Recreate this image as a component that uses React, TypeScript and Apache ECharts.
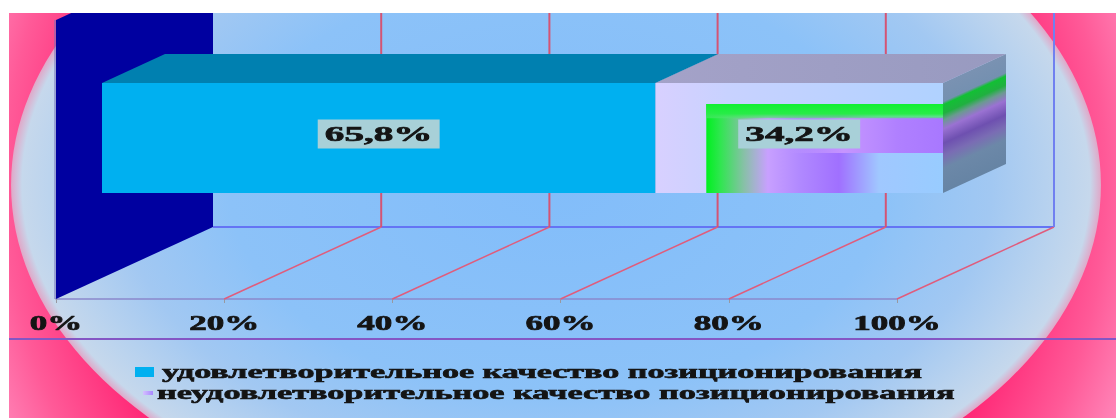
import React, { useEffect, useRef } from "react";
import * as echarts from "echarts";

const categories = ["качество позиционирования"];
const seriesNames = [
  "удовлетворительное качество позиционирования",
  "неудовлетворительное качество позиционирования",
];
const satisfactory = [65.8];
const unsatisfactory = [34.2];
const tickValues = [0, 20, 40, 60, 80, 100];
const tickLabels = ["0%", "20%", "40%", "60%", "80%", "100%"];

const W = 1116;
const H = 418;
// perspective depth of the floor / walls
const DEPTH_X = 157;
const DEPTH_Y = -72;
// front face of the bar sits at this depth, bar depth
const FACE_X = 46;
const FACE_Y = -21;
const BAR_DX = 63;
const BAR_DY = -29;
const FONT = "Liberation Serif";
const STRETCH_TICK = 1.67;
const STRETCH_VALUE = 1.78;
const INK = "#141414";

function measure(text: string, font: string): number {
  const c = document.createElement("canvas").getContext("2d");
  if (!c) return text.length * 9;
  c.font = font;
  return c.measureText(text).width;
}

function fmt(v: number): string {
  return v.toFixed(1).replace(".", ",") + "%";
}

function lg(x: number, y: number, x2: number, y2: number, stops: [number, string][], global = false) {
  return new echarts.graphic.LinearGradient(
    x,
    y,
    x2,
    y2,
    stops.map(([offset, color]) => ({ offset, color })),
    global
  );
}

function makeBarRender(kind: number) {
  return (params: any, api: any) => {
    const s = api.coord([api.value(0), api.value(2)]);
    const e = api.coord([api.value(1), api.value(2)]);
    const band = api.size([0, 1])[1];
    const h = band * 0.393;
    const x0 = s[0] + FACE_X;
    const x1 = e[0] + FACE_X;
    const y0 = s[1] + FACE_Y - h / 2;
    const y1 = y0 + h;
    const w = x1 - x0;
    const children: any[] = [];
    const top = [
      [x0, y0],
      [x0 + BAR_DX, y0 + BAR_DY],
      [x1 + BAR_DX, y0 + BAR_DY],
      [x1, y0],
    ];
    const right = [
      [x1, y0],
      [x1 + BAR_DX, y0 + BAR_DY],
      [x1 + BAR_DX, y1 + BAR_DY],
      [x1, y1],
    ];
    if (kind === 0) {
      children.push({ type: "polygon", shape: { points: right }, style: { fill: "#0070a0" } });
      children.push({ type: "polygon", shape: { points: top }, style: { fill: "#0080b0" } });
      children.push({ type: "rect", shape: { x: x0, y: y0, width: w, height: h }, style: { fill: "#00b0f0" } });
    } else {
      const lam = (63 * h) / 4810;
      children.push({
        type: "polygon",
        shape: { points: right },
        style: {
          fill: lg(
            x1,
            y0,
            x1 + 29 * lam,
            y0 + 63 * lam,
            [
              [0, "#7a92b2"],
              [0.17, "#7490b0"],
              [0.2, "#12c034"],
              [0.28, "#20b040"],
              [0.34, "#6a9a90"],
              [0.42, "#9a72d2"],
              [0.55, "#6e50b0"],
              [0.66, "#7a6cb4"],
              [0.78, "#6c88a8"],
              [1, "#6684a4"],
            ],
            true
          ),
        },
      });
      children.push({
        type: "polygon",
        shape: { points: top },
        style: { fill: lg(0, 0, 1, 0, [[0, "#a4a2c8"], [1, "#989ac0"]]) },
      });
      children.push({
        type: "rect",
        shape: { x: x0, y: y0, width: w, height: h },
        style: { fill: lg(0, 0, 1, 0, [[0, "#d8d0ff"], [0.25, "#c8d2ff"], [1, "#b0d2ff"]]) },
      });
      const ix = x0 + w * 0.177;
      const iy = y0 + h * 0.19;
      const iw = x1 - ix;
      const ih = y1 - iy;
      children.push({
        type: "rect",
        shape: { x: ix, y: iy, width: iw, height: ih },
        style: {
          fill: lg(0, 0, 1, 0, [
            [0, "#00f020"],
            [0.06, "#30e650"],
            [0.16, "#88c0a8"],
            [0.26, "#c8a0ff"],
            [0.4, "#b088ff"],
            [0.56, "#a070ff"],
            [0.73, "#a0c8ff"],
            [1, "#98ccff"],
          ]),
        },
      });
      children.push({
        type: "rect",
        shape: { x: ix + iw * 0.35, y: iy + ih * 0.15, width: iw * 0.65, height: ih * 0.4 },
        style: {
          fill: lg(0, 0, 1, 0, [
            [0, "rgba(200,160,255,0)"],
            [0.35, "rgba(200,150,255,0.95)"],
            [0.7, "#b080ff"],
            [1, "#a878ff"],
          ]),
        },
      });
      children.push({
        type: "rect",
        shape: { x: ix, y: iy, width: iw, height: ih * 0.16 },
        style: { fill: lg(0, 0, 0, 1, [[0, "#10f030"], [0.7, "#28ec48"], [1, "rgba(80,230,110,0.6)"]]) },
      });
    }
    const lx = (x0 + x1) / 2;
    const ly = (y0 + y1) / 2 - 4;
    children.push({
      type: "text",
      x: lx,
      y: ly,
      scaleX: STRETCH_VALUE,
      style: {
        text: fmt(api.value(1) - api.value(0)),
        fontFamily: FONT,
        fontWeight: "bold",
        fontSize: 22,
        fill: INK,
        stroke: INK,
        lineWidth: 0.7,
        align: "center",
        verticalAlign: "middle",
        backgroundColor: "#a8d0d8",
        padding: [4, 4, 3, 4],
      },
    });
    return { type: "group", children };
  };
}

function frameRender(params: any, api: any) {
  const cs = params.coordSys;
  const v = api.value(0);
  const x = api.coord([v, 0])[0];
  const yb = cs.y + cs.height;
  const bx = x + DEPTH_X;
  const by = yb + DEPTH_Y;
  const topFront = cs.y + 1;
  const topBack = topFront + DEPTH_Y;
  const last = tickValues[tickValues.length - 1];
  const children: any[] = [];
  if (params.dataIndex === 0) {
    const xEnd = api.coord([last, 0])[0];
    children.push({
      type: "polygon",
      shape: { points: [[x, yb], [bx, by], [bx, topBack], [x, topFront]] },
      style: { fill: "#0000a0" },
    });
    children.push({
      type: "line",
      shape: { x1: x - 1, y1: yb, x2: x - 1, y2: topFront },
      style: { stroke: "#7070b8", lineWidth: 1 },
    });
    children.push({
      type: "line",
      shape: { x1: bx, y1: by, x2: xEnd + DEPTH_X, y2: by },
      style: { stroke: "#6474f4", lineWidth: 2 },
    });
  } else {
    children.push({
      type: "line",
      shape: { x1: x, y1: yb, x2: bx, y2: by },
      style: { stroke: "#e05c7c", lineWidth: 1.5 },
    });
    children.push({
      type: "line",
      shape: { x1: bx, y1: by, x2: bx, y2: topBack },
      style: { stroke: v === last ? "#7080f0" : "#d45474", lineWidth: 2 },
    });
  }
  children.push({
    type: "text",
    x: x,
    y: yb + 24,
    scaleX: STRETCH_TICK,
    style: {
      text: tickLabels[params.dataIndex],
      fontFamily: FONT,
      fontWeight: "bold",
      fontSize: 21,
      fill: INK,
      stroke: INK,
      lineWidth: 0.7,
      align: "center",
      verticalAlign: "middle",
    },
  });
  return { type: "group", children };
}

export default function App() {
  const ref = useRef<HTMLDivElement>(null);
  useEffect(() => {
    if (!ref.current) return;
    const chart = echarts.init(ref.current, undefined, { renderer: "svg" });
    const legendFont = `bold 18px ${FONT}`;
    const l1w = measure(seriesNames[0], legendFont);
    const l2w = measure(seriesNames[1], legendFont);
    const legendText = {
      fontFamily: FONT,
      fontWeight: "bold",
      fontSize: 18,
      fill: INK,
      stroke: INK,
      lineWidth: 0.6,
      align: "left",
      verticalAlign: "middle",
    };
    const option: any = {
      animation: false,
      grid: { left: 56, right: W - 897, top: 19, bottom: H - 299 },
      xAxis: {
        type: "value",
        min: 0,
        max: 100,
        interval: 20,
        axisLine: { show: true, lineStyle: { color: "#8a88cc", width: 1.5 } },
        axisTick: { show: true, length: 4, lineStyle: { color: "#9898a0" } },
        axisLabel: { show: false },
        splitLine: { show: false },
      },
      yAxis: { type: "category", data: categories, show: false },
      graphic: [
        { type: "rect", z: -100, shape: { x: 0, y: 0, width: W, height: H }, style: { fill: "#ffffff" } },
        {
          type: "rect",
          z: -99,
          shape: { x: 9, y: 13, width: W - 9, height: H - 13 },
          style: {
            fill: {
              type: "radial",
              x: 556,
              y: 185,
              r: 640,
              global: true,
              colorStops: [
                { offset: 0, color: "#ff2070" },
                { offset: 0.72, color: "#ff2272" },
                { offset: 0.86, color: "#ff5a98" },
                { offset: 1, color: "#ffa0cc" },
              ],
            },
          },
        },
        {
          type: "circle",
          z: -98,
          x: 556,
          y: 185,
          scaleX: 545 / 350,
          shape: { cx: 0, cy: 0, r: 350 },
          style: {
            fill: {
              type: "radial",
              x: 0.5,
              y: 0.5,
              r: 0.5,
              colorStops: [
                { offset: 0, color: "#82bdfa" },
                { offset: 0.6, color: "#8cc2f8" },
                { offset: 0.8, color: "#a2c8f2" },
                { offset: 0.93, color: "#bcd4ee" },
                { offset: 0.98, color: "#c6d8ec" },
                { offset: 1, color: "#e0a8c8" },
              ],
            },
          },
        },
        {
          type: "line",
          z: 5,
          shape: { x1: 9, y1: 339, x2: W, y2: 339 },
          style: { stroke: "#8456c4", lineWidth: 2 },
        },
        { type: "rect", z: 10, shape: { x: 135, y: 367, width: 19, height: 10 }, style: { fill: "#00b0f0" } },
        {
          type: "rect",
          z: 10,
          shape: { x: 143, y: 391, width: 10, height: 4 },
          style: { fill: lg(0, 0, 1, 0, [[0, "#d4c0ff"], [1, "#a888ff"]]) },
        },
        {
          type: "text",
          z: 10,
          x: 162,
          y: 372,
          scaleX: 760 / l1w,
          style: { ...legendText, text: seriesNames[0] },
        },
        {
          type: "text",
          z: 10,
          x: 157,
          y: 393,
          scaleX: 798 / l2w,
          style: { ...legendText, text: seriesNames[1] },
        },
        { type: "rect", z: 100, shape: { x: 0, y: 0, width: W, height: 13 }, style: { fill: "#ffffff" } },
        { type: "rect", z: 100, shape: { x: 0, y: 0, width: 9, height: H }, style: { fill: "#ffffff" } },
      ],
      series: [
        {
          type: "custom",
          name: "frame",
          z: 1,
          renderItem: frameRender,
          encode: { x: 0 },
          data: tickValues.map((v) => [v]),
          silent: true,
        },
        {
          type: "custom",
          name: seriesNames[0],
          z: 3,
          renderItem: makeBarRender(0),
          encode: { x: [0, 1], y: 2 },
          data: satisfactory.map((v, i) => [0, v, i]),
        },
        {
          type: "custom",
          name: seriesNames[1],
          z: 4,
          renderItem: makeBarRender(1),
          encode: { x: [0, 1], y: 2 },
          data: unsatisfactory.map((v, i) => [satisfactory[i], satisfactory[i] + v, i]),
        },
      ],
    };
    chart.setOption(option);
    return () => chart.dispose();
  }, []);
  return <div ref={ref} style={{ position: "fixed", left: 0, top: 0, width: W, height: H }} />;
}
